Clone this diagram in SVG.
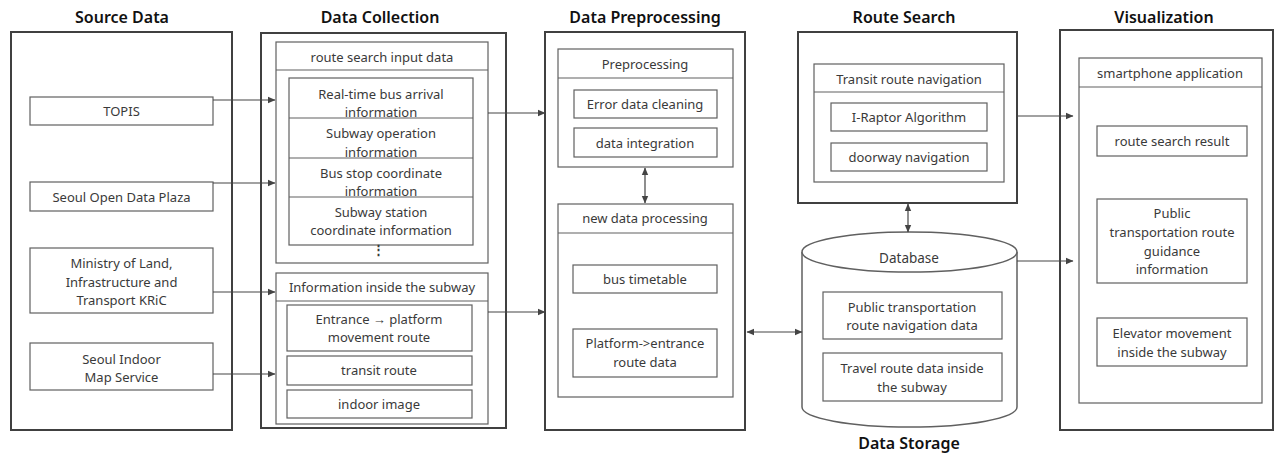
<svg xmlns="http://www.w3.org/2000/svg" width="1275" height="454" viewBox="0 0 1275 454">
<defs>
<marker id="ah" markerWidth="8" markerHeight="8" refX="7" refY="4" orient="auto-start-reverse" markerUnits="userSpaceOnUse">
<path d="M0,0.8 L7.5,4 L0,7.2 Z" fill="#444"/>
</marker>
<style>
.outer{fill:#fff;stroke:#404040;stroke-width:2}
.box{fill:#fff;stroke:#606060;stroke-width:1.2}
.div{stroke:#606060;stroke-width:1.2;fill:none}
.t{font-family:"Segoe UI","Noto Sans","Open Sans",sans-serif;font-size:13px;fill:#3a3a3a;text-anchor:middle;dominant-baseline:central}
.h{font-family:"Segoe UI","Noto Sans","Open Sans",sans-serif;font-size:16px;font-weight:600;fill:#111;text-anchor:middle;dominant-baseline:central}
.c{stroke:#444;stroke-width:1.2;fill:none}
</style>
</defs>
<rect width="1275" height="454" fill="#fff"/>

<g id="source-data">
<text class="h" x="122" y="17">Source Data</text>
<rect class="outer" x="11" y="32" width="221" height="398"/>
<g id="topis"><rect class="box" x="30" y="97" width="183" height="28"/><text class="t" x="121.5" y="111">TOPIS</text></g>
<g id="seoul-open"><rect class="box" x="30" y="182" width="183" height="29"/><text class="t" x="121.5" y="197">Seoul Open Data Plaza</text></g>
<g id="ministry"><rect class="box" x="30" y="248" width="183" height="65"/><text class="t" x="121.5" y="263">Ministry of Land,</text><text class="t" x="121.5" y="282">Infrastructure and</text><text class="t" x="121.5" y="300">Transport KRiC</text></g>
<g id="seoul-indoor"><rect class="box" x="30" y="343" width="183" height="47"/><text class="t" x="121.5" y="359">Seoul Indoor</text><text class="t" x="121.5" y="377">Map Service</text></g>
</g>

<g id="data-collection">
<text class="h" x="380" y="17">Data Collection</text>
<rect class="outer" x="261" y="33" width="245" height="395"/>
<g id="route-search-input">
<rect class="box" x="276" y="42" width="212" height="221"/>
<line class="div" x1="276" y1="70" x2="488" y2="70"/>
<text class="t" x="382" y="57">route search input data</text>
<rect class="box" x="289" y="78" width="184" height="167"/>
<line class="div" x1="289" y1="118" x2="473" y2="118"/>
<line class="div" x1="289" y1="158" x2="473" y2="158"/>
<line class="div" x1="289" y1="197" x2="473" y2="197"/>
<text class="t" x="381" y="94">Real-time bus arrival</text><text class="t" x="381" y="112">information</text>
<text class="t" x="381" y="133">Subway operation</text><text class="t" x="381" y="152">information</text>
<text class="t" x="381" y="173">Bus stop coordinate</text><text class="t" x="381" y="191">information</text>
<text class="t" x="381" y="212">Subway station</text><text class="t" x="381" y="230">coordinate information</text>
<text class="t" x="378" y="249" style="font-weight:bold">⋮</text>
</g>
<g id="inside-subway">
<rect class="box" x="276" y="273" width="212" height="151"/>
<line class="div" x1="276" y1="301" x2="488" y2="301"/>
<text class="t" x="382" y="287">Information inside the subway</text>
<rect class="box" x="287" y="305" width="185" height="46"/>
<text class="t" x="379" y="319">Entrance → platform</text><text class="t" x="379" y="337">movement route</text>
<rect class="box" x="287" y="356" width="185" height="29"/>
<text class="t" x="379" y="370">transit route</text>
<rect class="box" x="287" y="390" width="185" height="28"/>
<text class="t" x="379" y="404">indoor image</text>
</g>
</g>

<g id="data-preprocessing">
<text class="h" x="645" y="17">Data Preprocessing</text>
<rect class="outer" x="545" y="32" width="200" height="398"/>
<g id="preprocessing">
<rect class="box" x="558" y="49" width="175" height="118"/>
<line class="div" x1="558" y1="78" x2="733" y2="78"/>
<text class="t" x="645" y="64">Preprocessing</text>
<rect class="box" x="574" y="90" width="143" height="28"/><text class="t" x="645" y="104">Error data cleaning</text>
<rect class="box" x="574" y="128" width="143" height="29"/><text class="t" x="645" y="143">data integration</text>
</g>
<g id="new-data-processing">
<rect class="box" x="558" y="204" width="175" height="193"/>
<line class="div" x1="558" y1="233" x2="733" y2="233"/>
<text class="t" x="645" y="218">new data processing</text>
<rect class="box" x="573" y="265" width="144" height="28"/><text class="t" x="645" y="279">bus timetable</text>
<rect class="box" x="573" y="329" width="144" height="48"/><text class="t" x="645" y="343">Platform-&gt;entrance</text><text class="t" x="645" y="362">route data</text>
</g>
</g>

<g id="route-search">
<text class="h" x="904" y="17">Route Search</text>
<rect class="outer" x="798" y="32" width="219" height="171"/>
<rect class="box" x="814" y="64" width="190" height="118"/>
<line class="div" x1="814" y1="92" x2="1004" y2="92"/>
<text class="t" x="909" y="79">Transit route navigation</text>
<rect class="box" x="831" y="103" width="156" height="28"/><text class="t" x="909" y="117">I-Raptor Algorithm</text>
<rect class="box" x="831" y="143" width="156" height="28"/><text class="t" x="909" y="157">doorway navigation</text>
</g>

<g id="data-storage">
<path class="box" d="M802,252 L802,407 A107.5,20 0 0 0 1017,407 L1017,252" style="stroke-width:1.5"/>
<ellipse class="box" cx="909.5" cy="252" rx="107.5" ry="20" style="stroke-width:1.5"/>
<text class="t" x="909" y="258" style="font-size:13.5px">Database</text>
<rect class="box" x="823" y="292" width="179" height="47"/><text class="t" x="912" y="307">Public transportation</text><text class="t" x="912" y="325">route navigation data</text>
<rect class="box" x="823" y="353" width="179" height="48"/><text class="t" x="912" y="368">Travel route data inside</text><text class="t" x="912" y="387">the subway</text>
<text class="h" x="909" y="443">Data Storage</text>
</g>

<g id="visualization">
<text class="h" x="1164" y="17">Visualization</text>
<rect class="outer" x="1060" y="30" width="213" height="400"/>
<rect class="box" x="1079" y="58" width="183" height="345"/>
<line class="div" x1="1079" y1="87" x2="1262" y2="87"/>
<text class="t" x="1170" y="73">smartphone application</text>
<rect class="box" x="1097" y="126" width="150" height="30"/><text class="t" x="1172" y="141">route search result</text>
<rect class="box" x="1097" y="199" width="150" height="84"/><text class="t" x="1172" y="213">Public</text><text class="t" x="1172" y="232">transportation route</text><text class="t" x="1172" y="251">guidance</text><text class="t" x="1172" y="269">information</text>
<rect class="box" x="1097" y="318" width="150" height="48"/><text class="t" x="1172" y="333">Elevator movement</text><text class="t" x="1172" y="352">inside the subway</text>
</g>

<g id="connectors">
<line class="c" x1="213" y1="100" x2="275" y2="100" marker-end="url(#ah)"/>
<line class="c" x1="213" y1="183" x2="275" y2="183" marker-end="url(#ah)"/>
<line class="c" x1="213" y1="292" x2="275" y2="292" marker-end="url(#ah)"/>
<line class="c" x1="213" y1="374" x2="275" y2="374" marker-end="url(#ah)"/>
<line class="c" x1="488" y1="113" x2="545" y2="113" marker-end="url(#ah)"/>
<line class="c" x1="488" y1="312" x2="545" y2="312" marker-end="url(#ah)"/>
<line class="c" x1="645" y1="168" x2="645" y2="203" marker-start="url(#ah)" marker-end="url(#ah)"/>
<line class="c" x1="747" y1="332" x2="802" y2="332" marker-start="url(#ah)" marker-end="url(#ah)"/>
<line class="c" x1="908" y1="204" x2="908" y2="232" marker-start="url(#ah)" marker-end="url(#ah)"/>
<line class="c" x1="1017" y1="116" x2="1073" y2="116" marker-end="url(#ah)"/>
<line class="c" x1="1017" y1="261" x2="1073" y2="261" marker-end="url(#ah)"/>
</g>
</svg>
